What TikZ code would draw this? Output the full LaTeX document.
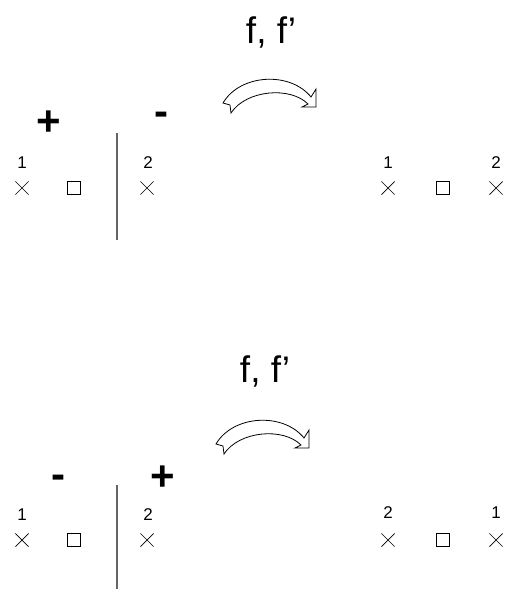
\documentclass[tikz,border=0pt]{standalone}
\usepackage{fontspec}
\setmainfont{Liberation Sans}
\usepackage{tikz}
\usetikzlibrary{shapes.misc}
\tikzset{
  numlabel/.style={font=\fontsize{17}{20}\selectfont, anchor=base, inner sep=0pt},
  signlabel/.style={font=\fontsize{42}{48}\selectfont\bfseries, anchor=base, inner sep=0pt},
  maplabel/.style={font=\fontsize{37}{44}\selectfont, anchor=base, inner sep=0pt},
  xmark/.style={draw, cross out, minimum size=12.5pt, inner sep=0pt, line width=0.7pt},
  boxmark/.style={draw, rectangle, minimum size=12.5pt, inner sep=0pt, line width=0.7pt},
  cutline/.style={draw=black!60, line width=1.3pt},
  swaparrow/.pic={
    \draw[line width=0.8pt, line join=miter]
      (223,103) .. controls (240,74) and (290,71) .. (311,97)
      -- (316,89) -- (316,107) -- (302,107) -- (308,104)
      .. controls (290,86) and (246,90) .. (231,113)
      -- (230,105) -- cycle;
  }
}

\begin{document}
\begin{tikzpicture}[x=1pt,y=-1pt]
  \useasboundingbox (0,0) rectangle (505,589);
  % upper case: + on the left, - on the right
  \node[maplabel] (mapA) at (271,43) {f, f’};
  \pic at (0,0) {swaparrow};
  \node[signlabel] (plusA) at (49,135) {+};
  \node[signlabel] (minusA) at (161,125) {-};
  \coordinate (cutAtop) at (117,133);
  \coordinate (cutAbot) at (117,240);
  \draw[cutline] (cutAtop) -- (cutAbot);
  \node[numlabel] (oneA) at (22,168) {1};
  \node[numlabel] (twoA) at (148,168) {2};
  \node[xmark] (xoneA) at (22,188) {};
  \node[boxmark] (boxA) at (74,188) {};
  \node[xmark] (xtwoA) at (147,188) {};
  \node[numlabel] (oneA') at (388,168) {1};
  \node[numlabel] (twoA') at (496,168) {2};
  \node[xmark] (xoneA') at (388,188) {};
  \node[boxmark] (boxA') at (443,188) {};
  \node[xmark] (xtwoA') at (496,188) {};
  % lower case: - on the left, + on the right
  \node[maplabel] (mapB) at (265,382) {f, f’};
  \pic at (-7,341) {swaparrow};
  \node[signlabel] (minusB) at (58,488) {-};
  \node[signlabel] (plusB) at (163,490) {+};
  \coordinate (cutBtop) at (117,485);
  \coordinate (cutBbot) at (117,589);
  \draw[cutline] (cutBtop) -- (cutBbot);
  \node[numlabel] (oneB) at (22,520) {1};
  \node[numlabel] (twoB) at (148,520) {2};
  \node[xmark] (xoneB) at (22,540) {};
  \node[boxmark] (boxB) at (74,540) {};
  \node[xmark] (xtwoB) at (147,540) {};
  \node[numlabel] (twoB') at (388,518) {2};
  \node[numlabel] (oneB') at (496,518) {1};
  \node[xmark] (xtwoB') at (388,540) {};
  \node[boxmark] (boxB') at (443,540) {};
  \node[xmark] (xoneB') at (496,540) {};
\end{tikzpicture}
\end{document}
